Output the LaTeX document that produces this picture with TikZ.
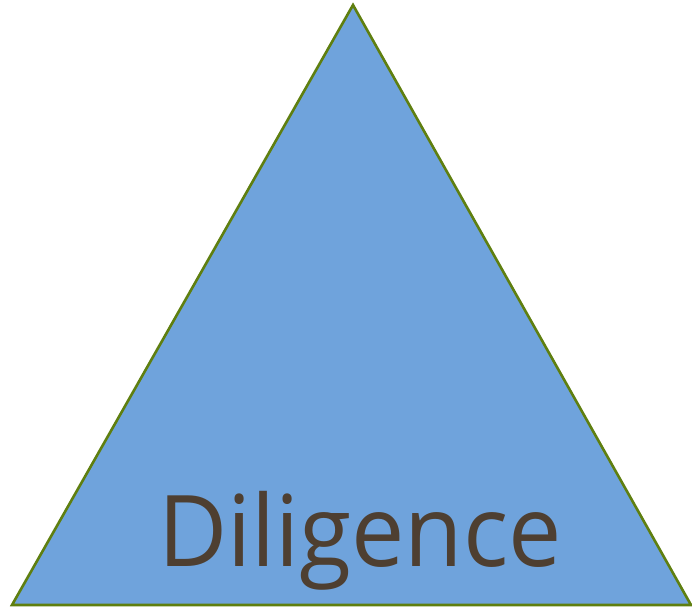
\documentclass[tikz,border=0pt]{standalone}
\usepackage{fontspec}
\setmainfont{Open Sans}
\definecolor{pyrfill}{HTML}{6FA3DC}
\definecolor{pyredge}{HTML}{5F7F10}
\definecolor{pyrtext}{HTML}{4E3F31}

\begin{document}
\begin{tikzpicture}[x=1pt,y=1pt,line width=2.6pt]
 \useasboundingbox (0,0) rectangle (692,610);
 \draw[draw=pyredge,fill=pyrfill,line join=miter] (353,605)--(12,5)--(691,5)--cycle;
 \node[anchor=base,inner sep=0pt,text=pyrtext,font=\fontsize{99}{110}\selectfont,xscale=0.96] (word) at (360,44) {Diligence};
\end{tikzpicture}
\end{document}
